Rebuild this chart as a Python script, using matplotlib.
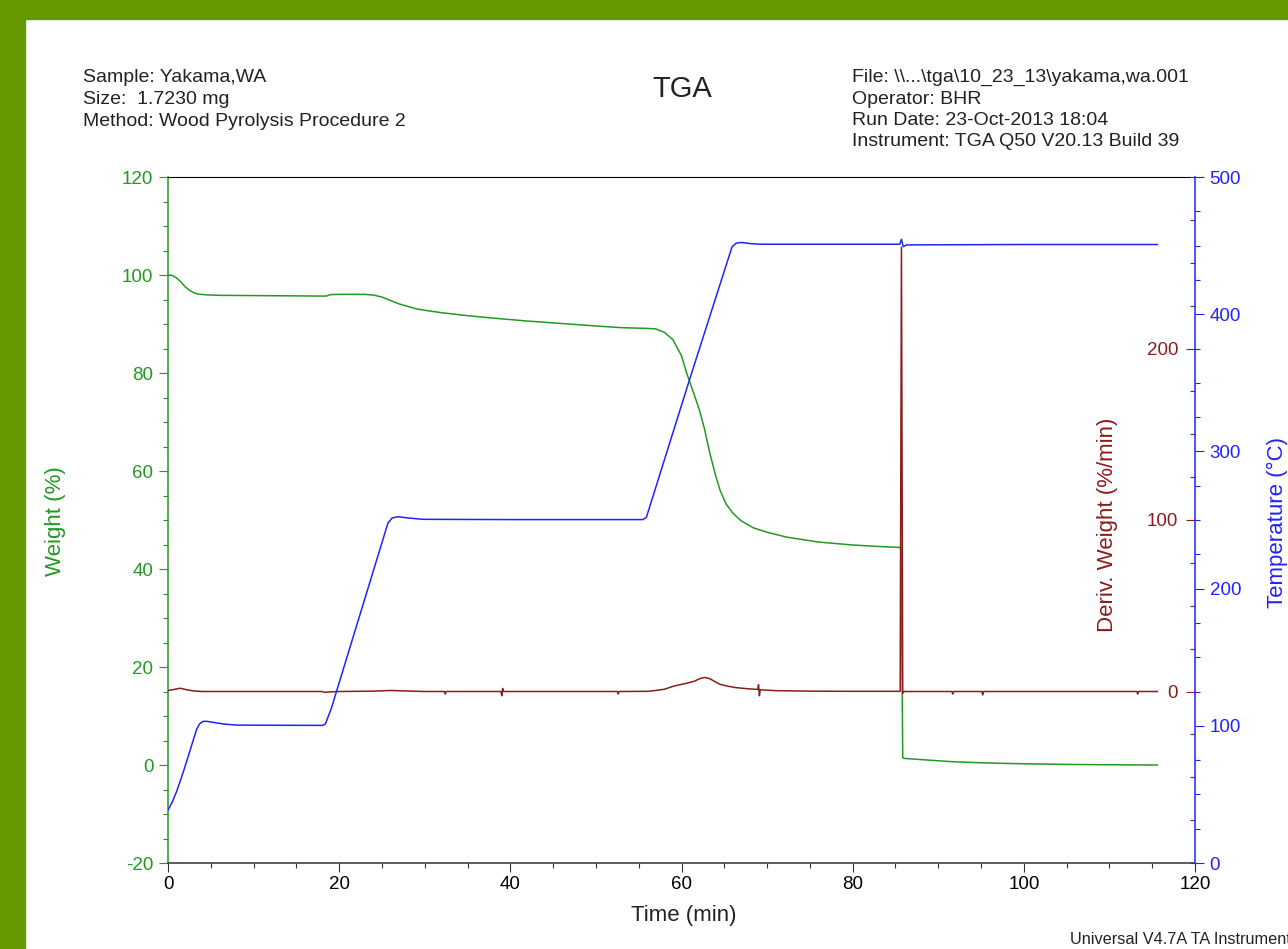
import numpy as np
import matplotlib.pyplot as plt
from matplotlib.patches import Rectangle
from matplotlib.ticker import MultipleLocator, FixedLocator

plt.rcParams['font.family'] = ['Liberation Sans', 'DejaVu Sans']
plt.rcParams['axes.unicode_minus'] = False

# --- data ---
weight_time = [0, 0.5, 1.0, 1.5, 2.0, 2.5, 3.0, 3.5, 4.5, 6, 10, 14, 18, 18.5, 19.0, 20,
               23, 24, 25, 26, 27, 28, 29, 30, 32, 35, 38, 42, 46, 50, 53, 56, 57, 58,
               59, 60, 60.6, 61.5, 62.1, 62.7, 63.3, 64.0, 64.5, 65.2, 66.0, 67.0, 68.4,
               70, 72.3, 76, 80, 83, 85.5, 85.65, 85.85, 86, 88, 91.4, 95, 97.2, 100,
               105, 110, 115.6]
weight_pct = [100.0, 99.9, 99.4, 98.6, 97.6, 96.9, 96.4, 96.1, 95.95, 95.85, 95.8, 95.75,
              95.7, 95.7, 96.0, 96.05, 96.05, 95.9, 95.5, 94.8, 94.1, 93.6, 93.1, 92.8,
              92.3, 91.7, 91.2, 90.6, 90.1, 89.6, 89.25, 89.1, 89.0, 88.3, 86.8, 83.5,
              80.0, 75.5, 72.4, 68.5, 63.7, 59.0, 56.1, 53.3, 51.4, 49.8, 48.4, 47.5,
              46.5, 45.5, 44.9, 44.6, 44.4, 44.3, 1.5, 1.35, 1.1, 0.7, 0.45, 0.35, 0.25,
              0.12, 0.05, 0.0]

deriv_time = [0, 0.7, 1.4, 2.2, 3.0, 4, 18, 18.3, 19, 20, 24, 26, 28, 30, 32.3, 32.4, 32.5,
              38.9, 39.0, 39.1, 39.2, 52.5, 52.6, 52.7, 56, 57, 58, 59, 59.4, 60.6, 61.5,
              62.2, 62.7, 63.3, 64, 64.5, 65.5, 66.3, 67.5, 68.9, 69.0, 69.1, 69.2, 71,
              75, 80, 85.55, 85.7, 85.85, 86.0, 91.6, 91.7, 91.8, 95.1, 95.2, 95.3,
              113.2, 113.3, 113.4, 115.6]
deriv_val = [0.6, 1.2, 1.9, 1.0, 0.3, 0.0, 0.0, -0.5, -0.2, 0.0, 0.2, 0.6, 0.3, 0.0, 0.0,
             -1.5, 0.0, 0.0, -2.5, 1.8, 0.0, 0.0, -1.5, 0.0, 0.1, 0.6, 1.3, 3.0, 3.5, 4.8,
             6.0, 7.6, 8.2, 7.5, 5.5, 4.2, 3.0, 2.3, 1.7, 1.2, 4.0, -2.5, 1.0, 0.5, 0.2,
             0.1, 0.1, 259.0, -1.0, 0.0, 0.0, -1.5, 0.0, 0.0, -2.0, 0.0, 0.0, -1.5, 0.0,
             0.0]

temp_time = [0, 0.5, 1.0, 1.5, 2.0, 2.5, 3.0, 3.35, 3.7, 4.1, 4.5, 5.5, 6.5, 8.0, 12, 18.1,
             18.4, 19.1, 25.7, 26.2, 26.9, 28, 29.8, 40, 55.5, 55.9, 61.0, 63.9, 65.9,
             66.4, 67.0, 68, 69.2, 85.5, 85.7, 85.9, 86.3, 100, 115.6]
temp_c = [38.6, 44.5, 52, 61, 70.5, 80.5, 90.5, 97.5, 101.5, 103.2, 103.3, 102.3, 101.3,
          100.5, 100.4, 100.3, 101.5, 113, 247.8, 251.5, 252.4, 251.5, 250.5, 250.3,
          250.3, 252, 353.5, 410, 449, 451.8, 452.3, 451.5, 451, 451, 454.6, 449.2,
          450.5, 450.8, 450.8]

GREEN = '#229922'
BROWN = '#8b1c1c'
BLUE = '#2222ff'
W, H = 1288, 949


def fx(px):
    return px / W


def fy(py):
    return 1 - py / H


fig = plt.figure(figsize=(12.88, 9.49), dpi=100)
fig.patches.append(Rectangle((0, fy(19)), 1, 19 / H, transform=fig.transFigure,
                             color='#669900', zorder=0))
fig.patches.append(Rectangle((0, 0), fx(25), 1, transform=fig.transFigure,
                             color='#669900', zorder=0))

ax = fig.add_axes([fx(168), fy(863), fx(1195) - fx(168), (863 - 177) / H])
ax_d = ax.twinx()
ax_t = ax.twinx()

ax.plot(weight_time, weight_pct, color=GREEN, lw=1.1)
ax_d.plot(deriv_time, deriv_val, color=BROWN, lw=1.1)
ax_t.plot(temp_time, temp_c, color=BLUE, lw=1.1)

ax.set_xlim(0, 120)
ax.set_ylim(-20, 120)
ax_d.set_ylim(-100, 300)
ax_t.set_ylim(0, 500)

# weight axis (left)
ax.xaxis.set_major_locator(MultipleLocator(20))
ax.xaxis.set_minor_locator(MultipleLocator(5))
ax.yaxis.set_major_locator(MultipleLocator(20))
ax.yaxis.set_minor_locator(MultipleLocator(5))
ax.tick_params(axis='x', which='major', length=6.5, width=0.8, labelsize=13.5, pad=3,
               color='#333333')
ax.tick_params(axis='x', which='minor', length=3.6, width=0.8, color='#333333')
ax.tick_params(axis='y', which='major', length=6.5, width=0.8, labelsize=13.5, pad=4,
               color=GREEN, labelcolor=GREEN)
ax.tick_params(axis='y', which='minor', length=3.6, width=0.8, color=GREEN)
ax.spines['left'].set_color(GREEN)
ax.spines['left'].set_linewidth(1.1)
ax.spines['right'].set_visible(False)
ax.spines['top'].set_color('black')
ax.spines['top'].set_linewidth(0.8)
ax.spines['bottom'].set_color('#333333')
ax.spines['bottom'].set_linewidth(1.1)

# derivative axis: ticks and labels inside the right spine
for s in ax_d.spines.values():
    s.set_visible(False)
ax_d.yaxis.set_major_locator(FixedLocator([0, 100, 200]))
ax_d.yaxis.set_minor_locator(MultipleLocator(25))
ax_d.tick_params(axis='y', which='major', direction='in', length=6.5, width=0.8,
                 labelsize=13.5, pad=-12.2, color=BROWN, labelcolor=BROWN)
ax_d.tick_params(axis='y', which='minor', direction='in', length=3.6, width=0.8,
                 color=BROWN)
plt.setp(ax_d.get_yticklabels(), ha='right')

# temperature axis (right, outward)
for name in ['left', 'top', 'bottom']:
    ax_t.spines[name].set_visible(False)
ax_t.spines['right'].set_color(BLUE)
ax_t.spines['right'].set_linewidth(1.1)
ax_t.yaxis.set_major_locator(MultipleLocator(100))
ax_t.yaxis.set_minor_locator(MultipleLocator(25))
ax_t.tick_params(axis='y', which='major', length=6.5, width=0.8, labelsize=13.5, pad=4,
                 color=BLUE, labelcolor=BLUE)
ax_t.tick_params(axis='y', which='minor', length=3.6, width=0.8, color=BLUE)

# axis titles
fig.text(fx(684), fy(915), 'Time (min)', fontsize=16, ha='center', va='center',
         color='#222222')
fig.text(fx(56), fy(521), 'Weight (%)', fontsize=16, rotation=90, ha='center',
         va='center', color=GREEN)
fig.text(fx(1108), fy(525), 'Deriv. Weight (%/min)', fontsize=16, rotation=90,
         ha='center', va='center', color=BROWN)
fig.text(fx(1277), fy(522), 'Temperature (°C)', fontsize=16, rotation=90,
         ha='center', va='center', color=BLUE)

# header block
fig.text(fx(682), fy(97), 'TGA', fontsize=21, ha='center', va='baseline',
         color='#222222')
left_lines = ['Sample: Yakama,WA', 'Size:  1.7230 mg',
              'Method: Wood Pyrolysis Procedure 2']
right_lines = ['File: \\\\...\\tga\\10_23_13\\yakama,wa.001', 'Operator: BHR',
               'Run Date: 23-Oct-2013 18:04', 'Instrument: TGA Q50 V20.13 Build 39']
for i, line in enumerate(left_lines):
    fig.text(fx(83), fy(82 + 21.8 * i), line, fontsize=14, va='baseline',
             color='#222222')
for i, line in enumerate(right_lines):
    fig.text(fx(852), fy(82 + 21.5 * i), line, fontsize=14, va='baseline',
             color='#222222')

# instrument footer runs past the right edge, as in the original export
fig.text(fx(1070), fy(944), 'Universal V4.7A TA Instruments', fontsize=11.7,
         va='baseline', color='#222222')

fig.savefig('out.png', dpi=100)
